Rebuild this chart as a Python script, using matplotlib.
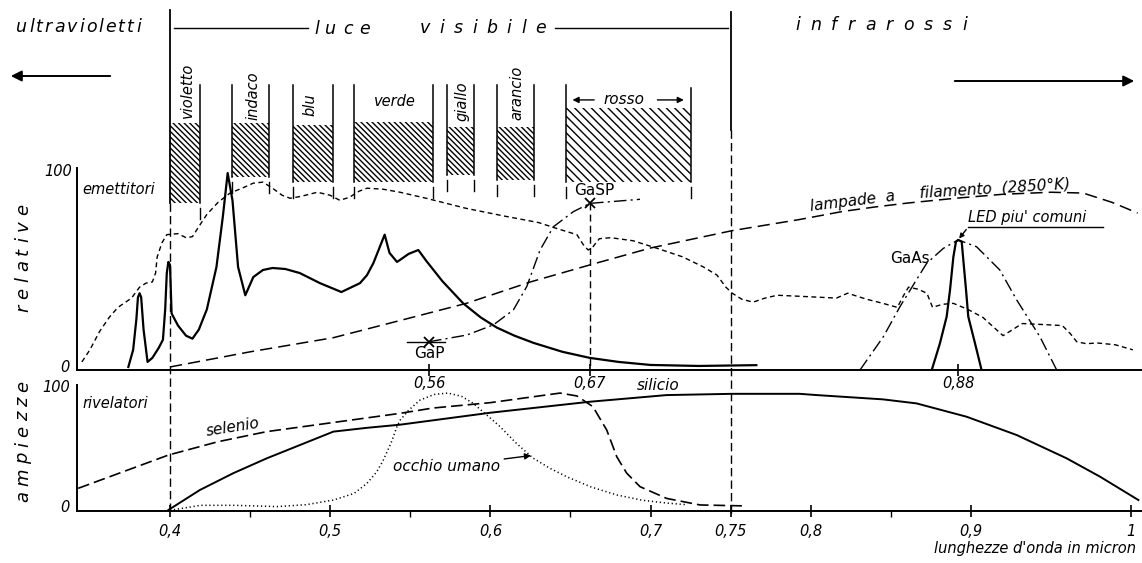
import matplotlib
matplotlib.use("Agg")
import matplotlib.pyplot as plt
from matplotlib.patches import Rectangle

W, H = 1142, 563

# ---------------- data ----------------
band_names = ['violetto', 'indaco', 'blu', 'verde', 'giallo', 'arancio', 'rosso']
band_left = [0.400, 0.439, 0.477, 0.515, 0.573, 0.604, 0.647]
band_right = [0.419, 0.462, 0.502, 0.564, 0.590, 0.627, 0.725]
band_hatch_top = [122.3, 122.3, 121.3, 122.8, 120.3, 120.3, 129.7]
band_hatch_bottom = [82.7, 95.5, 93.1, 93.1, 96.5, 94.1, 93.1]

# emitters (relative amplitude, top panel)
lamp_solid_x = [0.374, 0.377, 0.379, 0.380, 0.381, 0.382, 0.3835, 0.386, 0.389, 0.393, 0.3956, 0.397,
                0.398, 0.399, 0.400, 0.4005, 0.401, 0.405, 0.410, 0.414, 0.418, 0.423, 0.429, 0.433,
                0.436, 0.439, 0.4425, 0.447, 0.452, 0.458, 0.464, 0.472, 0.481, 0.4936, 0.507, 0.5186,
                0.523, 0.527, 0.531, 0.534, 0.537, 0.5417, 0.5436, 0.549, 0.555, 0.560, 0.570, 0.583,
                0.594, 0.604, 0.615, 0.627, 0.645, 0.662, 0.680, 0.700, 0.730, 0.766]
lamp_solid_y = [1.5, 10, 25, 36, 38, 36, 20, 4, 6, 11, 15, 30,
                48, 53.5, 52, 40, 28, 22, 17, 15.5, 20, 30, 51, 76,
                97.5, 84, 51, 37, 46, 49.5, 50.5, 50, 48, 43, 38.6, 43,
                47, 53, 61, 67, 58, 53.5, 54.5, 57.5, 59.4, 54, 44, 33,
                26, 21, 17, 13.4, 9, 6, 4, 2.5, 2, 2.4]

fluo_x = [0.345, 0.350, 0.356, 0.362, 0.3675, 0.376, 0.381, 0.385, 0.389, 0.391, 0.392, 0.395, 0.398,
          0.405, 0.410, 0.414, 0.418, 0.423, 0.430, 0.4375, 0.445, 0.452, 0.458, 0.464, 0.470, 0.475,
          0.482, 0.492, 0.500, 0.506, 0.512, 0.518, 0.523, 0.533, 0.5436, 0.560, 0.585, 0.610, 0.630,
          0.6416, 0.654, 0.658, 0.661, 0.664, 0.668, 0.675, 0.689, 0.705, 0.720, 0.733, 0.7414, 0.747,
          0.751, 0.757, 0.764, 0.771, 0.779, 0.793, 0.816, 0.820, 0.823, 0.835, 0.845, 0.854, 0.858,
          0.861, 0.867, 0.8725, 0.875, 0.876, 0.882, 0.889, 0.898, 0.9075, 0.913, 0.920, 0.926, 0.932,
          0.945, 0.957, 0.962, 0.966, 0.972, 0.9786, 0.990, 1.001]
fluo_y = [4, 10, 19, 26, 31, 35.6, 41, 43, 43.6, 48, 56, 63, 67,
          67.5, 65.5, 66, 71, 77, 83, 87.6, 90, 92.5, 93, 90, 86.5, 85,
          86, 88, 86.5, 84, 85.5, 88.5, 90, 89.5, 88, 85, 80, 76, 73,
          70, 67, 62, 59.4, 61, 65, 65.5, 64, 60, 56, 51, 47, 41,
          38, 35, 33.6, 35.5, 37, 36.5, 35.6, 37, 38, 35, 33, 31, 37,
          41, 40, 38, 33, 31, 32.5, 33, 30, 26, 22, 17, 20, 23,
          22.5, 22, 18, 14, 13, 13.4, 12.5, 10]

filament_x = [0.400, 0.450, 0.502, 0.5436, 0.585, 0.625, 0.662, 0.700, 0.751, 0.793, 0.820, 0.840,
              0.861, 0.890, 0.920, 0.950, 0.970, 0.988, 1.004]
filament_y = [1.5, 9, 16, 24.5, 33, 43.6, 52, 60.4, 69, 74.5, 78.5, 80.7,
              82.7, 85, 87, 88, 87.6, 83, 77.7]

gasp_x = [0.5617, 0.5852, 0.6018, 0.6143, 0.6227, 0.631, 0.6393, 0.6518, 0.6622, 0.6934]
gasp_y = [14, 17.3, 22.3, 29.7, 41.3, 59.4, 70.9, 78.4, 82.5, 84.5]

gaas_wide_x = [0.8307, 0.8453, 0.8557, 0.8723, 0.8827, 0.892, 0.9035, 0.918, 0.9285, 0.943, 0.9535]
gaas_wide_y = [0, 16.5, 31.4, 52.8, 60.2, 64.4, 61, 49.5, 34.7, 16.5, 0]

gaas_led_x = [0.8755, 0.8806, 0.8848, 0.8869, 0.889, 0.8906, 0.892, 0.8942, 0.8952, 0.8969, 0.8983,
              0.9025, 0.9066]
gaas_led_y = [0, 13.2, 26.4, 39.6, 56, 63.5, 64.4, 63.5, 54.5, 39.6, 26.4, 13.2, 0]

# detectors (bottom panel)
selenio_x = [0.3427, 0.399, 0.430, 0.4604, 0.5436, 0.564, 0.600, 0.6435, 0.654, 0.664, 0.6726, 0.6789,
             0.6851, 0.6934, 0.710, 0.7308, 0.760]
selenio_y = [18, 44.4, 55, 63, 77.5, 81.7, 86, 93.6, 91.3, 82.8, 64.3, 43, 30, 19.3, 10, 4.8, 4]

silicio_x = [0.399, 0.4187, 0.4395, 0.4604, 0.4812, 0.502, 0.5228, 0.5436, 0.600, 0.662, 0.710, 0.751,
             0.793, 0.8037, 0.845, 0.866, 0.8973, 0.9285, 0.9597, 0.9806, 1.0045]
silicio_y = [0.8, 16.7, 30, 41.8, 52.4, 63, 66, 68.5, 78, 86.7, 92, 93, 93, 92, 88.6, 85.4, 74.8, 60.3,
             41.8, 27.2, 8.7]

occhio_x = [0.400, 0.419, 0.440, 0.467, 0.485, 0.502, 0.515, 0.523, 0.529, 0.533, 0.538, 0.5417, 0.5436,
            0.549, 0.556, 0.565, 0.5735, 0.582, 0.589, 0.597, 0.606, 0.616, 0.6266, 0.637, 0.648, 0.663,
            0.679, 0.695, 0.710, 0.7227]
occhio_y = [0.5, 4.5, 4.5, 3.5, 5, 8.7, 14, 22, 31, 40, 54, 67, 72,
            80, 88, 92.5, 93.6, 91, 85.7, 77, 67, 54, 42, 34, 27, 19,
            12.7, 8.5, 6.3, 5]

top_ticks = [0.5617, 0.662, 0.892]
top_tick_labels = ['0,56', '0,67', '0,88']
bottom_ticks = [0.4, 0.5, 0.6, 0.7, 0.75, 0.8, 0.9, 1.0]
bottom_tick_labels = ['0,4', '0,5', '0,6', '0,7', '0,75', '0,8', '0,9', '1']
bottom_minor = [0.45, 0.55, 0.65, 0.85]

# ---------------- figure ----------------
plt.rcParams['font.family'] = ['DejaVu Sans']
plt.rcParams['font.style'] = 'italic'
plt.rcParams['hatch.linewidth'] = 1.0

fig = plt.figure(figsize=(W / 100, H / 100), dpi=100)
fig.patch.set_facecolor('white')
renderer = fig.canvas.get_renderer()
XL = (0.34195, 1.00674)
SY = 2.02  # px per unit in top panel

ax = fig.add_axes([77 / W, 1 - 370 / H, 1065 / W, 370 / H])
ax.set_xlim(*XL)
ax.set_ylim(0, 370 / SY)
axb = fig.add_axes([77 / W, 1 - 511 / H, 1065 / W, 126 / H])
axb.set_xlim(*XL)
axb.set_ylim(0, 100)
for a in (ax, axb):
    a.patch.set_alpha(0)
    for s in ('top', 'right'):
        a.spines[s].set_visible(False)
    a.spines['left'].set_bounds(0, 100)
    a.spines['left'].set_linewidth(1.4)
    a.spines['bottom'].set_linewidth(1.4)
    a.set_yticks([])

ax.set_xticks(top_ticks)
ax.set_xticklabels(top_tick_labels)
ax.tick_params(axis='x', direction='inout', length=9, width=1.2, pad=0, labelsize=10.5)
axb.set_xticks(bottom_ticks)
axb.set_xticklabels(bottom_tick_labels)
axb.set_xticks(bottom_minor, minor=True)
axb.tick_params(axis='x', which='major', direction='inout', length=9, width=1.2, pad=5, labelsize=10.5)
axb.tick_params(axis='x', which='minor', direction='out', length=4, width=1.0)

K = 'black'
# vertical limits of the visible light
ax.plot([0.4, 0.4], [178.2, 82.7], color=K, lw=1.3, clip_on=False)
ax.plot([0.4, 0.4], [82.7, -71.8], color=K, lw=1.0, dashes=(6, 3), clip_on=False)
ax.plot([0.75, 0.75], [177.2, 118.8], color=K, lw=1.3, clip_on=False)
ax.plot([0.75, 0.75], [118.8, -71.8], color=K, lw=1.0, dashes=(6, 3), clip_on=False)

# colour bands
for i, name in enumerate(band_names):
    l, r = band_left[i], band_right[i]
    ht, hb = band_hatch_top[i], band_hatch_bottom[i]
    dens = '\\' * 4 if name == 'rosso' else '\\' * 6
    ax.add_patch(Rectangle((l, hb), r - l, ht - hb, fill=False, hatch=dens, lw=0,
                           edgecolor=K, clip_on=False))
    for xx in (l, r):
        if xx == 0.4:
            continue
        top = 139.6 if (name == 'rosso' and xx == r) else 141.1
        ax.plot([xx, xx], [top, hb], color=K, lw=1.1, clip_on=False)
        ax.plot([xx, xx], [hb - 2.5, hb - 8], color=K, lw=1.0, clip_on=False)


def tdata(x, y, s, rot=0, size=10.5, ha='center', va='center', a=ax, **kw):
    return a.text(x, y, s, rotation=rot, fontsize=size, ha=ha, va=va, clip_on=False, **kw)


tdata(0.4112, 138.6, 'violetto', rot=90)
tdata(0.4518, 135.6, 'indaco', rot=90)
tdata(0.4874, 131.2, 'blu', rot=90)
tdata(0.5405, 132.7, 'verde')
tdata(0.5823, 133.2, 'giallo', rot=90)
tdata(0.6166, 137.0, 'arancio', rot=90)
tdata(0.6834, 133.7, 'rosso', size=11)
ax.annotate('', xy=(0.6495, 133.7), xytext=(0.6665, 133.7),
            arrowprops=dict(arrowstyle='-|>', lw=1.0, color=K, mutation_scale=9), annotation_clip=False)
ax.annotate('', xy=(0.7225, 133.7), xytext=(0.7025, 133.7),
            arrowprops=dict(arrowstyle='-|>', lw=1.0, color=K, mutation_scale=9), annotation_clip=False)

# emitter curves
ax.plot(lamp_solid_x, lamp_solid_y, color=K, lw=1.6, solid_joinstyle='round')
ax.plot(fluo_x, fluo_y, color=K, lw=1.0, dashes=(3.5, 2.5))
ax.plot(filament_x, filament_y, color=K, lw=1.1, dashes=(8, 4))
ax.plot(gasp_x, gasp_y, color=K, lw=1.0, dashes=(9, 3, 1.5, 3))
ax.plot(gaas_wide_x, gaas_wide_y, color=K, lw=1.0, dashes=(9, 3, 1.5, 3))
ax.plot(gaas_led_x, gaas_led_y, color=K, lw=1.6, solid_joinstyle='round')

# GaP / GaSP markers
ax.plot([gasp_x[0] - 0.0137, gasp_x[0] + 0.01], [gasp_y[0], gasp_y[0]], color=K, lw=1.0)
ax.plot([gasp_x[0], gasp_x[8]], [gasp_y[0], gasp_y[8]], ls='none', marker='x', ms=7, mew=1.3, color=K)
ax.plot([gasp_x[8], gasp_x[8]], [gasp_y[8], 0], color=K, lw=1.0, dashes=(5, 3))
tdata(0.5617, 8.0, 'GaP', size=11, style='normal')
tdata(0.6647, 89.0, 'GaSP', size=11, style='normal')
tdata(0.862, 55.4, 'GaAs', size=11, style='normal')

# LED label
tdata(0.8981, 75.5, "LED piu' comuni", size=10.5, ha='left')
ax.plot([0.8981, 0.9825], [70.8, 70.8], color=K, lw=1.0, clip_on=False)
ax.annotate('', xy=(0.8915, 64.0), xytext=(0.8981, 70.6),
            arrowprops=dict(arrowstyle='-|>', lw=1.0, color=K, mutation_scale=7))

# filament label (sits on the dashed curve)
ax.text(0.800, 78.8, 'lampade  a', rotation=7, rotation_mode='anchor', fontsize=11,
        ha='left', va='baseline')
ax.text(0.868, 85.2, 'filamento  (2850°K)', rotation=3.5, rotation_mode='anchor', fontsize=11,
        ha='left', va='baseline')

# detector curves
axb.plot(selenio_x, selenio_y, color=K, lw=1.2, dashes=(7, 3))
axb.plot(silicio_x, silicio_y, color=K, lw=1.4, solid_joinstyle='round')
axb.plot(occhio_x, occhio_y, color=K, lw=1.1, dashes=(0.8, 1.8))
tdata(0.4393, 66.5, 'selenio', rot=9, size=11, a=axb)
tdata(0.7046, 99.5, 'silicio', size=11, a=axb)
axb.annotate('occhio umano', xy=(0.6254, 44.0), xytext=(0.606, 35.5), ha='right', va='center',
             fontsize=11, arrowprops=dict(arrowstyle='-|>', lw=1.0, color=K, mutation_scale=9,
                                          shrinkA=1, shrinkB=0))


# panel labels
def tfig(x, y, s, size=10.5, ha='center', va='center', rot=0, **kw):
    return fig.text(x / W, 1 - y / H, s, fontsize=size, ha=ha, va=va, rotation=rot, **kw)


tfig(82, 190, 'emettitori', ha='left', size=10.5)
tfig(82, 403, 'rivelatori', ha='left', size=10.5)
tfig(72, 172, '100', ha='right', size=10.5)
tfig(70, 367, '0', ha='right', size=10.5)
tfig(70, 388, '100', ha='right', size=10.5)
tfig(70, 508, '0', ha='right', size=10.5)
tfig(1136, 549, "lunghezze d'onda in micron", ha='right', size=10.5)


def tracked(word, p0, p1, c, size=12.5, vertical=False):
    """Lay a word out letter by letter between pixel positions p0 and p1 (even tracking)."""
    tmp = [fig.text(0, 0, ch, fontsize=size) for ch in word]
    widths = [t.get_window_extent(renderer).width for t in tmp]
    for t in tmp:
        t.remove()
    span = abs(p1 - p0)
    gap = (span - sum(widths)) / (len(word) - 1)
    pos = 0.0
    for ch, w in zip(word, widths):
        if vertical:
            yy = p0 - pos  # p0 is bottom (larger pixel y)
            fig.text(c / W, 1 - yy / H, ch, fontsize=size, rotation=90, ha='center', va='bottom')
        else:
            fig.text((p0 + pos) / W, 1 - c / H, ch, fontsize=size, ha='left', va='center')
        pos += w + gap


tracked('ultravioletti', 16, 141, 27, size=12.5)
tracked('luce', 314, 370, 29, size=12.5)
tracked('visibile', 420, 546, 28, size=12.5)
tracked('infrarossi', 795, 967, 25, size=12.5)
tracked('relative', 312, 204, 23, size=13, vertical=True)
tracked('ampiezze', 502, 381, 23, size=13, vertical=True)

# lines next to "luce visibile"
fig.add_artist(plt.Line2D([174 / W, 308 / W], [1 - 28 / H, 1 - 28 / H], color=K, lw=1.0))
fig.add_artist(plt.Line2D([555 / W, 728 / W], [1 - 28 / H, 1 - 28 / H], color=K, lw=1.0))

# direction arrows
ax.annotate('', xy=(8, H - 76), xytext=(113, H - 76), xycoords='figure pixels',
            textcoords='figure pixels',
            arrowprops=dict(arrowstyle='-|>', lw=1.4, color=K, mutation_scale=16))
ax.annotate('', xy=(1137, H - 81), xytext=(952, H - 81), xycoords='figure pixels',
            textcoords='figure pixels',
            arrowprops=dict(arrowstyle='-|>', lw=1.4, color=K, mutation_scale=16))

fig.savefig('out.png', dpi=100, facecolor='white')
